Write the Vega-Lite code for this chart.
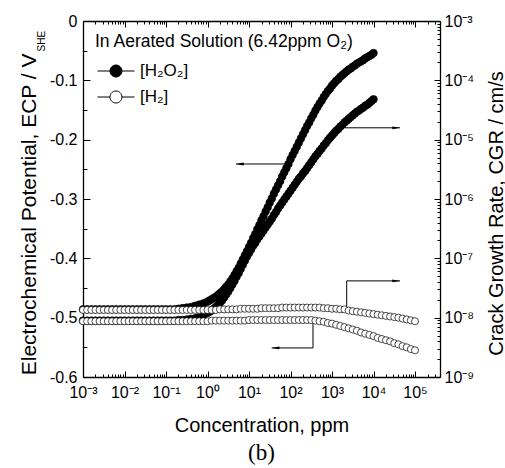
{
  "$schema": "https://vega.github.io/schema/vega-lite/v6.json",
  "width": 357,
  "height": 356,
  "autosize": {"type": "none"},
  "padding": {"left": 83, "top": 21, "right": 65, "bottom": 91},
  "background": "white",
  "config": {
    "view": {"stroke": null},
    "font": "Liberation Sans",
    "axis": {
      "grid": false,
      "labelFont": "Liberation Sans",
      "labelFontSize": 16,
      "labelColor": "black",
      "labelFlush": false,
      "labelOverlap": false,
      "tickColor": "black",
      "tickWidth": 1,
      "domainColor": "black",
      "domainWidth": 1.3,
      "titleFont": "Liberation Sans",
      "titleFontSize": 20,
      "titleFontWeight": "normal",
      "titleColor": "black"
    }
  },
  "title": {"text": "(b)", "orient": "bottom", "frame": "group", "anchor": "middle", "font": "Liberation Serif", "fontSize": 23, "fontWeight": "normal", "color": "black", "offset": 7},
  "datasets": {
    "h2o2_ecp": [
      {"c":1e-3,"ecp":-0.486},{"c":1.259e-3,"ecp":-0.486},{"c":1.585e-3,"ecp":-0.486},{"c":1.995e-3,"ecp":-0.486},{"c":2.512e-3,"ecp":-0.486},{"c":3.162e-3,"ecp":-0.486},{"c":3.981e-3,"ecp":-0.486},{"c":5.012e-3,"ecp":-0.486},{"c":6.31e-3,"ecp":-0.486},{"c":7.943e-3,"ecp":-0.486},
      {"c":1e-2,"ecp":-0.486},{"c":1.259e-2,"ecp":-0.486},{"c":1.585e-2,"ecp":-0.486},{"c":1.995e-2,"ecp":-0.486},{"c":2.512e-2,"ecp":-0.486},{"c":3.162e-2,"ecp":-0.486},{"c":3.981e-2,"ecp":-0.486},{"c":5.012e-2,"ecp":-0.486},{"c":6.31e-2,"ecp":-0.486},{"c":7.943e-2,"ecp":-0.486},
      {"c":1e-1,"ecp":-0.486},{"c":1.259e-1,"ecp":-0.486},{"c":1.585e-1,"ecp":-0.486},{"c":1.995e-1,"ecp":-0.485},{"c":2.512e-1,"ecp":-0.484},{"c":3.162e-1,"ecp":-0.483},{"c":3.981e-1,"ecp":-0.482},{"c":5.012e-1,"ecp":-0.480},{"c":6.31e-1,"ecp":-0.478},{"c":7.943e-1,"ecp":-0.476},
      {"c":1e0,"ecp":-0.473},{"c":1.259e0,"ecp":-0.469},{"c":1.585e0,"ecp":-0.465},{"c":1.995e0,"ecp":-0.459},{"c":2.512e0,"ecp":-0.452},{"c":3.162e0,"ecp":-0.444},{"c":3.981e0,"ecp":-0.434},{"c":5.012e0,"ecp":-0.422},{"c":6.31e0,"ecp":-0.409},{"c":7.943e0,"ecp":-0.395},
      {"c":1e1,"ecp":-0.381},{"c":1.259e1,"ecp":-0.366},{"c":1.585e1,"ecp":-0.351},{"c":1.995e1,"ecp":-0.336},{"c":2.512e1,"ecp":-0.321},{"c":3.162e1,"ecp":-0.306},{"c":3.981e1,"ecp":-0.291},{"c":5.012e1,"ecp":-0.277},{"c":6.31e1,"ecp":-0.262},{"c":7.943e1,"ecp":-0.248},
      {"c":1e2,"ecp":-0.233},{"c":1.259e2,"ecp":-0.219},{"c":1.585e2,"ecp":-0.205},{"c":1.995e2,"ecp":-0.191},{"c":2.512e2,"ecp":-0.177},{"c":3.162e2,"ecp":-0.164},{"c":3.981e2,"ecp":-0.151},{"c":5.012e2,"ecp":-0.139},{"c":6.31e2,"ecp":-0.128},{"c":7.943e2,"ecp":-0.118},
      {"c":1e3,"ecp":-0.109},{"c":1.259e3,"ecp":-0.101},{"c":1.585e3,"ecp":-0.094},{"c":1.995e3,"ecp":-0.088},{"c":2.512e3,"ecp":-0.082},{"c":3.162e3,"ecp":-0.077},{"c":3.981e3,"ecp":-0.072},{"c":5.012e3,"ecp":-0.068},{"c":6.31e3,"ecp":-0.063},{"c":7.943e3,"ecp":-0.059},
      {"c":1e4,"ecp":-0.054},
      {"c":1.122e0,"ecp":-0.471},{"c":1.413e0,"ecp":-0.467},{"c":1.778e0,"ecp":-0.462},{"c":2.239e0,"ecp":-0.456},{"c":2.818e0,"ecp":-0.448},{"c":3.548e0,"ecp":-0.439},{"c":4.467e0,"ecp":-0.428},{"c":5.623e0,"ecp":-0.416},{"c":7.079e0,"ecp":-0.402},{"c":8.913e0,"ecp":-0.388},
      {"c":1.122e1,"ecp":-0.374},{"c":1.413e1,"ecp":-0.359},{"c":1.778e1,"ecp":-0.344},{"c":2.239e1,"ecp":-0.329},{"c":2.818e1,"ecp":-0.314},{"c":3.548e1,"ecp":-0.299},{"c":4.467e1,"ecp":-0.284},{"c":5.623e1,"ecp":-0.270},{"c":7.079e1,"ecp":-0.255},{"c":8.913e1,"ecp":-0.241},
      {"c":1.122e2,"ecp":-0.226},{"c":1.413e2,"ecp":-0.212},{"c":1.778e2,"ecp":-0.198},{"c":2.239e2,"ecp":-0.184},{"c":2.818e2,"ecp":-0.171},{"c":3.548e2,"ecp":-0.158},{"c":4.467e2,"ecp":-0.145},{"c":5.623e2,"ecp":-0.134},{"c":7.079e2,"ecp":-0.123},{"c":8.913e2,"ecp":-0.114},
      {"c":1.122e3,"ecp":-0.105},{"c":1.413e3,"ecp":-0.098},{"c":1.778e3,"ecp":-0.091},{"c":2.239e3,"ecp":-0.085},{"c":2.818e3,"ecp":-0.080},{"c":3.548e3,"ecp":-0.075},{"c":4.467e3,"ecp":-0.070},{"c":5.623e3,"ecp":-0.066},{"c":7.079e3,"ecp":-0.061},{"c":8.913e3,"ecp":-0.057}
    ],
    "h2o2_cgr": [
      {"c":1e-3,"cgr":8.91e-9},{"c":1.259e-3,"cgr":8.91e-9},{"c":1.585e-3,"cgr":8.91e-9},{"c":1.995e-3,"cgr":8.91e-9},{"c":2.512e-3,"cgr":8.91e-9},{"c":3.162e-3,"cgr":8.91e-9},{"c":3.981e-3,"cgr":8.91e-9},{"c":5.012e-3,"cgr":8.91e-9},{"c":6.31e-3,"cgr":8.91e-9},{"c":7.943e-3,"cgr":8.91e-9},
      {"c":1e-2,"cgr":8.91e-9},{"c":1.259e-2,"cgr":8.91e-9},{"c":1.585e-2,"cgr":8.91e-9},{"c":1.995e-2,"cgr":8.91e-9},{"c":2.512e-2,"cgr":8.91e-9},{"c":3.162e-2,"cgr":8.91e-9},{"c":3.981e-2,"cgr":8.91e-9},{"c":5.012e-2,"cgr":8.91e-9},{"c":6.31e-2,"cgr":8.91e-9},{"c":7.943e-2,"cgr":8.91e-9},
      {"c":1e-1,"cgr":8.91e-9},{"c":1.259e-1,"cgr":8.91e-9},{"c":1.585e-1,"cgr":8.91e-9},{"c":1.995e-1,"cgr":9.12e-9},{"c":2.512e-1,"cgr":9.12e-9},{"c":3.162e-1,"cgr":9.33e-9},{"c":3.981e-1,"cgr":9.55e-9},{"c":5.012e-1,"cgr":9.77e-9},{"c":6.31e-1,"cgr":1.023e-8},{"c":7.943e-1,"cgr":1.096e-8},
      {"c":1e0,"cgr":1.202e-8},{"c":1.259e0,"cgr":1.318e-8},{"c":1.585e0,"cgr":1.514e-8},{"c":1.995e0,"cgr":1.778e-8},{"c":2.512e0,"cgr":2.188e-8},{"c":3.162e0,"cgr":2.754e-8},{"c":3.981e0,"cgr":3.631e-8},{"c":5.012e0,"cgr":4.898e-8},{"c":6.31e0,"cgr":6.607e-8},{"c":7.943e0,"cgr":9.12e-8},
      {"c":1e1,"cgr":1.23e-7},{"c":1.259e1,"cgr":1.622e-7},{"c":1.585e1,"cgr":2.089e-7},{"c":1.995e1,"cgr":2.63e-7},{"c":2.512e1,"cgr":3.311e-7},{"c":3.162e1,"cgr":4.169e-7},{"c":3.981e1,"cgr":5.37e-7},{"c":5.012e1,"cgr":6.918e-7},{"c":6.31e1,"cgr":8.71e-7},{"c":7.943e1,"cgr":1.096e-6},
      {"c":1e2,"cgr":1.38e-6},{"c":1.259e2,"cgr":1.738e-6},{"c":1.585e2,"cgr":2.188e-6},{"c":1.995e2,"cgr":2.692e-6},{"c":2.512e2,"cgr":3.311e-6},{"c":3.162e2,"cgr":4.169e-6},{"c":3.981e2,"cgr":5.248e-6},{"c":5.012e2,"cgr":6.457e-6},{"c":6.31e2,"cgr":7.943e-6},{"c":7.943e2,"cgr":9.772e-6},
      {"c":1e3,"cgr":1.175e-5},{"c":1.259e3,"cgr":1.413e-5},{"c":1.585e3,"cgr":1.66e-5},{"c":1.995e3,"cgr":1.95e-5},{"c":2.512e3,"cgr":2.239e-5},{"c":3.162e3,"cgr":2.57e-5},{"c":3.981e3,"cgr":2.951e-5},{"c":5.012e3,"cgr":3.311e-5},{"c":6.31e3,"cgr":3.715e-5},{"c":7.943e3,"cgr":4.169e-5},
      {"c":1e4,"cgr":4.786e-5},
      {"c":1.122e0,"cgr":1.259e-8},{"c":1.413e0,"cgr":1.413e-8},{"c":1.778e0,"cgr":1.622e-8},{"c":2.239e0,"cgr":1.95e-8},{"c":2.818e0,"cgr":2.455e-8},{"c":3.548e0,"cgr":3.162e-8},{"c":4.467e0,"cgr":4.169e-8},{"c":5.623e0,"cgr":5.623e-8},{"c":7.079e0,"cgr":7.762e-8},{"c":8.913e0,"cgr":1.072e-7},
      {"c":1.122e1,"cgr":1.413e-7},{"c":1.413e1,"cgr":1.82e-7},{"c":1.778e1,"cgr":2.344e-7},{"c":2.239e1,"cgr":2.951e-7},{"c":2.818e1,"cgr":3.715e-7},{"c":3.548e1,"cgr":4.677e-7},{"c":4.467e1,"cgr":6.026e-7},{"c":5.623e1,"cgr":7.762e-7},{"c":7.079e1,"cgr":9.772e-7},{"c":8.913e1,"cgr":1.23e-6},
      {"c":1.122e2,"cgr":1.549e-6},{"c":1.413e2,"cgr":1.95e-6},{"c":1.778e2,"cgr":2.399e-6},{"c":2.239e2,"cgr":2.951e-6},{"c":2.818e2,"cgr":3.715e-6},{"c":3.548e2,"cgr":4.677e-6},{"c":4.467e2,"cgr":5.754e-6},{"c":5.623e2,"cgr":7.079e-6},{"c":7.079e2,"cgr":8.71e-6},{"c":8.913e2,"cgr":1.072e-5},
      {"c":1.122e3,"cgr":1.288e-5},{"c":1.413e3,"cgr":1.514e-5},{"c":1.778e3,"cgr":1.778e-5},{"c":2.239e3,"cgr":2.089e-5},{"c":2.818e3,"cgr":2.399e-5},{"c":3.548e3,"cgr":2.754e-5},{"c":4.467e3,"cgr":3.09e-5},{"c":5.623e3,"cgr":3.467e-5},{"c":7.079e3,"cgr":3.89e-5},{"c":8.913e3,"cgr":4.467e-5}
    ],
    "h2_ecp": [
      {"c":1e-3,"ecp":-0.506},{"c":1.259e-3,"ecp":-0.506},{"c":1.585e-3,"ecp":-0.506},{"c":1.995e-3,"ecp":-0.506},{"c":2.512e-3,"ecp":-0.506},{"c":3.162e-3,"ecp":-0.506},{"c":3.981e-3,"ecp":-0.506},{"c":5.012e-3,"ecp":-0.506},{"c":6.31e-3,"ecp":-0.506},{"c":7.943e-3,"ecp":-0.506},
      {"c":1e-2,"ecp":-0.506},{"c":1.259e-2,"ecp":-0.506},{"c":1.585e-2,"ecp":-0.506},{"c":1.995e-2,"ecp":-0.506},{"c":2.512e-2,"ecp":-0.506},{"c":3.162e-2,"ecp":-0.506},{"c":3.981e-2,"ecp":-0.506},{"c":5.012e-2,"ecp":-0.506},{"c":6.31e-2,"ecp":-0.506},{"c":7.943e-2,"ecp":-0.506},
      {"c":1e-1,"ecp":-0.506},{"c":1.259e-1,"ecp":-0.506},{"c":1.585e-1,"ecp":-0.506},{"c":1.995e-1,"ecp":-0.506},{"c":2.512e-1,"ecp":-0.506},{"c":3.162e-1,"ecp":-0.506},{"c":3.981e-1,"ecp":-0.506},{"c":5.012e-1,"ecp":-0.506},{"c":6.31e-1,"ecp":-0.506},{"c":7.943e-1,"ecp":-0.506},
      {"c":1e0,"ecp":-0.506},{"c":1.259e0,"ecp":-0.505},{"c":1.585e0,"ecp":-0.505},{"c":1.995e0,"ecp":-0.505},{"c":2.512e0,"ecp":-0.505},{"c":3.162e0,"ecp":-0.505},{"c":3.981e0,"ecp":-0.505},{"c":5.012e0,"ecp":-0.505},{"c":6.31e0,"ecp":-0.505},{"c":7.943e0,"ecp":-0.505},
      {"c":1e1,"ecp":-0.504},{"c":1.259e1,"ecp":-0.504},{"c":1.585e1,"ecp":-0.504},{"c":1.995e1,"ecp":-0.504},{"c":2.512e1,"ecp":-0.504},{"c":3.162e1,"ecp":-0.504},{"c":3.981e1,"ecp":-0.504},{"c":5.012e1,"ecp":-0.504},{"c":6.31e1,"ecp":-0.504},{"c":7.943e1,"ecp":-0.504},
      {"c":1e2,"ecp":-0.504},{"c":1.259e2,"ecp":-0.504},{"c":1.585e2,"ecp":-0.504},{"c":1.995e2,"ecp":-0.504},{"c":2.512e2,"ecp":-0.504},{"c":3.162e2,"ecp":-0.504},{"c":3.981e2,"ecp":-0.505},{"c":5.012e2,"ecp":-0.506},{"c":6.31e2,"ecp":-0.507},{"c":7.943e2,"ecp":-0.509},
      {"c":1e3,"ecp":-0.510},{"c":1.259e3,"ecp":-0.512},{"c":1.585e3,"ecp":-0.514},{"c":1.995e3,"ecp":-0.516},{"c":2.512e3,"ecp":-0.518},{"c":3.162e3,"ecp":-0.520},{"c":3.981e3,"ecp":-0.522},{"c":5.012e3,"ecp":-0.525},{"c":6.31e3,"ecp":-0.527},{"c":7.943e3,"ecp":-0.529},
      {"c":1e4,"ecp":-0.531},{"c":1.259e4,"ecp":-0.534},{"c":1.585e4,"ecp":-0.536},{"c":1.995e4,"ecp":-0.538},{"c":2.512e4,"ecp":-0.540},{"c":3.162e4,"ecp":-0.543},{"c":3.981e4,"ecp":-0.545},{"c":5.012e4,"ecp":-0.548},{"c":6.31e4,"ecp":-0.550},{"c":7.943e4,"ecp":-0.553},
      {"c":1e5,"ecp":-0.555}
    ],
    "h2_cgr": [
      {"c":1e-3,"cgr":1.349e-8},{"c":1.259e-3,"cgr":1.349e-8},{"c":1.585e-3,"cgr":1.349e-8},{"c":1.995e-3,"cgr":1.349e-8},{"c":2.512e-3,"cgr":1.349e-8},{"c":3.162e-3,"cgr":1.349e-8},{"c":3.981e-3,"cgr":1.349e-8},{"c":5.012e-3,"cgr":1.349e-8},{"c":6.31e-3,"cgr":1.349e-8},{"c":7.943e-3,"cgr":1.349e-8},
      {"c":1e-2,"cgr":1.349e-8},{"c":1.259e-2,"cgr":1.349e-8},{"c":1.585e-2,"cgr":1.349e-8},{"c":1.995e-2,"cgr":1.349e-8},{"c":2.512e-2,"cgr":1.349e-8},{"c":3.162e-2,"cgr":1.349e-8},{"c":3.981e-2,"cgr":1.349e-8},{"c":5.012e-2,"cgr":1.349e-8},{"c":6.31e-2,"cgr":1.349e-8},{"c":7.943e-2,"cgr":1.349e-8},
      {"c":1e-1,"cgr":1.349e-8},{"c":1.259e-1,"cgr":1.349e-8},{"c":1.585e-1,"cgr":1.349e-8},{"c":1.995e-1,"cgr":1.349e-8},{"c":2.512e-1,"cgr":1.349e-8},{"c":3.162e-1,"cgr":1.349e-8},{"c":3.981e-1,"cgr":1.349e-8},{"c":5.012e-1,"cgr":1.349e-8},{"c":6.31e-1,"cgr":1.349e-8},{"c":7.943e-1,"cgr":1.349e-8},
      {"c":1e0,"cgr":1.349e-8},{"c":1.259e0,"cgr":1.349e-8},{"c":1.585e0,"cgr":1.349e-8},{"c":1.995e0,"cgr":1.38e-8},{"c":2.512e0,"cgr":1.38e-8},{"c":3.162e0,"cgr":1.38e-8},{"c":3.981e0,"cgr":1.38e-8},{"c":5.012e0,"cgr":1.38e-8},{"c":6.31e0,"cgr":1.413e-8},{"c":7.943e0,"cgr":1.413e-8},
      {"c":1e1,"cgr":1.413e-8},{"c":1.259e1,"cgr":1.413e-8},{"c":1.585e1,"cgr":1.413e-8},{"c":1.995e1,"cgr":1.445e-8},{"c":2.512e1,"cgr":1.445e-8},{"c":3.162e1,"cgr":1.445e-8},{"c":3.981e1,"cgr":1.445e-8},{"c":5.012e1,"cgr":1.445e-8},{"c":6.31e1,"cgr":1.479e-8},{"c":7.943e1,"cgr":1.479e-8},
      {"c":1e2,"cgr":1.479e-8},{"c":1.259e2,"cgr":1.479e-8},{"c":1.585e2,"cgr":1.479e-8},{"c":1.995e2,"cgr":1.479e-8},{"c":2.512e2,"cgr":1.479e-8},{"c":3.162e2,"cgr":1.479e-8},{"c":3.981e2,"cgr":1.479e-8},{"c":5.012e2,"cgr":1.479e-8},{"c":6.31e2,"cgr":1.445e-8},{"c":7.943e2,"cgr":1.445e-8},
      {"c":1e3,"cgr":1.413e-8},{"c":1.259e3,"cgr":1.413e-8},{"c":1.585e3,"cgr":1.38e-8},{"c":1.995e3,"cgr":1.38e-8},{"c":2.512e3,"cgr":1.318e-8},{"c":3.162e3,"cgr":1.288e-8},{"c":3.981e3,"cgr":1.259e-8},{"c":5.012e3,"cgr":1.23e-8},{"c":6.31e3,"cgr":1.202e-8},{"c":7.943e3,"cgr":1.175e-8},
      {"c":1e4,"cgr":1.148e-8},{"c":1.259e4,"cgr":1.122e-8},{"c":1.585e4,"cgr":1.096e-8},{"c":1.995e4,"cgr":1.072e-8},{"c":2.512e4,"cgr":1.047e-8},{"c":3.162e4,"cgr":1.023e-8},{"c":3.981e4,"cgr":1.0e-8},{"c":5.012e4,"cgr":9.66e-9},{"c":6.31e4,"cgr":9.33e-9},{"c":7.943e4,"cgr":9.02e-9},
      {"c":1e5,"cgr":8.71e-9}
    ],
    "arrows": [
      {"x1":82.4,"x2":4.86,"y1":-0.241,"y2":-0.241},
      {"x1":2056,"x2":43550,"y1":-0.180,"y2":-0.180},
      {"x1":2259,"x2":2259,"y1":-0.481,"y2":-0.438},
      {"x1":2259,"x2":43550,"y1":-0.438,"y2":-0.438},
      {"x1":348,"x2":348,"y1":-0.510,"y2":-0.551},
      {"x1":348,"x2":35.2,"y1":-0.551,"y2":-0.551}
    ],
    "heads": [
      {"c":4.86,"ecp":-0.241,"dir":"left"},
      {"c":43550,"ecp":-0.180,"dir":"right"},
      {"c":43550,"ecp":-0.438,"dir":"right"},
      {"c":35.2,"ecp":-0.551,"dir":"left"}
    ]
  },
  "resolve": {"scale": {"x": "independent", "y": "independent"}},
  "layer": [
    {
      "data": {"name": "h2o2_ecp"},
      "mark": {"type": "point", "shape": "circle", "filled": true, "size": 58, "stroke": "black", "strokeWidth": 0.7, "opacity": 1},
      "encoding": {
        "x": {"field": "c", "type": "quantitative", "scale": {"type": "log", "domain": [0.001, 400000], "nice": false},
          "axis": {"orient": "bottom", "offset": 0, "values": [0.001, 0.01, 0.1, 1, 10, 100, 1000, 10000, 100000],
            "labelExpr": "['10⁻³','10⁻²','10⁻¹','10⁰','10¹','10²','10³','10⁴','10⁵'][round(log(datum.value)/LN10)+3]",
            "tickSize": -6, "labelPadding": 13, "title": "Concentration, ppm", "titlePadding": 15}},
        "y": {"field": "ecp", "type": "quantitative", "scale": {"domain": [-0.6, 0], "nice": false, "zero": false},
          "axis": {"orient": "left", "offset": 0, "values": [0, -0.1, -0.2, -0.3, -0.4, -0.5, -0.6],
            "labelExpr": "datum.value == 0 ? '0' : '-' + format(-datum.value, '.1f')",
            "tickSize": -7, "labelPadding": 13,
            "title": "Electrochemical Potential, ECP / V", "titleFontSize": 21, "titleAngle": 270, "titleAlign": "right", "titleBaseline": "alphabetic", "titleX": -48, "titleY": 32}},
        "fill": {"datum": "[H₂O₂]", "type": "nominal", "scale": {"domain": ["[H₂O₂]", "[H₂]"], "range": ["black", "white"]},
          "legend": {"orient": "top-left", "offset": 12, "padding": 0,
            "title": "In Aerated Solution (6.42ppm O₂)", "titleFont": "Liberation Sans", "titleFontSize": 17.5, "titleFontWeight": "normal", "titleColor": "black", "titlePadding": 12, "titleLimit": 400,
            "labelFont": "Liberation Sans", "labelFontSize": 17, "labelColor": "black", "labelOffset": 28, "labelLimit": 200,
            "symbolType": "M-1,0L1.08,0M3.08,0L5.17,0M3.08,0A1,1,0,1,1,1.08,0A1,1,0,1,1,3.08,0Z",
            "symbolSize": 144, "symbolStrokeColor": "black", "symbolStrokeWidth": 1, "symbolOpacity": 1, "rowPadding": 8}}
      }
    },
    {
      "data": {"name": "h2o2_cgr"},
      "mark": {"type": "point", "shape": "circle", "filled": true, "size": 58, "stroke": "black", "strokeWidth": 0.7, "opacity": 1},
      "encoding": {
        "x": {"field": "c", "type": "quantitative", "scale": {"type": "log", "domain": [0.001, 400000], "nice": false},
          "axis": {"orient": "top", "offset": 0, "values": [0.001, 0.01, 0.1, 1, 10, 100, 1000, 10000, 100000], "labels": false, "tickSize": -6, "title": null}},
        "y": {"field": "cgr", "type": "quantitative", "scale": {"type": "log", "domain": [1e-9, 1e-3], "nice": false},
          "axis": {"orient": "right", "offset": 0, "values": [1e-9, 1e-8, 1e-7, 1e-6, 1e-5, 1e-4, 1e-3],
            "labelExpr": "['10⁻⁹','10⁻⁸','10⁻⁷','10⁻⁶','10⁻⁵','10⁻⁴','10⁻³'][round(log(datum.value)/LN10)+9]",
            "tickSize": -6, "labelPadding": 10,
            "title": "Crack Growth Rate, CGR / cm/s", "titleAngle": 270, "titleAlign": "center", "titleBaseline": "alphabetic", "titleX": 62, "titleY": 192}},
        "fill": {"datum": "[H₂O₂]", "type": "nominal", "scale": {"domain": ["[H₂O₂]", "[H₂]"], "range": ["black", "white"]}}
      }
    },
    {
      "data": {"name": "h2_ecp"},
      "mark": {"type": "point", "shape": "circle", "filled": true, "size": 50, "stroke": "black", "strokeWidth": 0.7, "opacity": 1},
      "encoding": {
        "x": {"field": "c", "type": "quantitative", "scale": {"type": "log", "domain": [0.001, 400000], "nice": false},
          "axis": {"orient": "bottom", "offset": 0, "labels": false, "domain": false, "tickSize": -3, "title": null,
            "values": [0.002,0.003,0.004,0.005,0.006,0.007,0.008,0.009,0.02,0.03,0.04,0.05,0.06,0.07,0.08,0.09,0.2,0.3,0.4,0.5,0.6,0.7,0.8,0.9,2,3,4,5,6,7,8,9,20,30,40,50,60,70,80,90,200,300,400,500,600,700,800,900,2000,3000,4000,5000,6000,7000,8000,9000,20000,30000,40000,50000,60000,70000,80000,90000,200000,300000]}},
        "y": {"field": "ecp", "type": "quantitative", "scale": {"domain": [-0.6, 0], "nice": false, "zero": false},
          "axis": {"orient": "left", "offset": 0, "values": [-0.05, -0.15, -0.25, -0.35, -0.45, -0.55], "labels": false, "domain": false, "tickSize": -4,
            "title": "SHE", "titleFontSize": 10, "titleAngle": 270, "titleAlign": "left", "titleBaseline": "alphabetic", "titleX": -39, "titleY": 30}},
        "fill": {"datum": "[H₂]", "type": "nominal", "scale": {"domain": ["[H₂O₂]", "[H₂]"], "range": ["black", "white"]}}
      }
    },
    {
      "data": {"name": "h2_cgr"},
      "mark": {"type": "point", "shape": "circle", "filled": true, "size": 50, "stroke": "black", "strokeWidth": 0.7, "opacity": 1},
      "encoding": {
        "x": {"field": "c", "type": "quantitative", "scale": {"type": "log", "domain": [0.001, 400000], "nice": false},
          "axis": {"orient": "top", "offset": 0, "labels": false, "domain": false, "tickSize": -3, "title": null,
            "values": [0.002,0.003,0.004,0.005,0.006,0.007,0.008,0.009,0.02,0.03,0.04,0.05,0.06,0.07,0.08,0.09,0.2,0.3,0.4,0.5,0.6,0.7,0.8,0.9,2,3,4,5,6,7,8,9,20,30,40,50,60,70,80,90,200,300,400,500,600,700,800,900,2000,3000,4000,5000,6000,7000,8000,9000,20000,30000,40000,50000,60000,70000,80000,90000,200000,300000]}},
        "y": {"field": "cgr", "type": "quantitative", "scale": {"type": "log", "domain": [1e-9, 1e-3], "nice": false},
          "axis": {"orient": "right", "offset": 0, "labels": false, "domain": false, "tickSize": -3, "title": null,
            "values": [2e-9,3e-9,4e-9,5e-9,6e-9,7e-9,8e-9,9e-9,2e-8,3e-8,4e-8,5e-8,6e-8,7e-8,8e-8,9e-8,2e-7,3e-7,4e-7,5e-7,6e-7,7e-7,8e-7,9e-7,2e-6,3e-6,4e-6,5e-6,6e-6,7e-6,8e-6,9e-6,2e-5,3e-5,4e-5,5e-5,6e-5,7e-5,8e-5,9e-5,2e-4,3e-4,4e-4,5e-4,6e-4,7e-4,8e-4,9e-4]}},
        "fill": {"datum": "[H₂]", "type": "nominal", "scale": {"domain": ["[H₂O₂]", "[H₂]"], "range": ["black", "white"]}}
      }
    },
    {
      "data": {"name": "arrows"},
      "mark": {"type": "rule", "color": "black", "strokeWidth": 1},
      "encoding": {
        "x": {"field": "x1", "type": "quantitative", "scale": {"type": "log", "domain": [0.001, 400000], "nice": false}, "axis": null},
        "x2": {"field": "x2"},
        "y": {"field": "y1", "type": "quantitative", "scale": {"domain": [-0.6, 0], "nice": false, "zero": false}, "axis": null},
        "y2": {"field": "y2"}
      }
    },
    {
      "data": {"name": "heads"},
      "mark": {"type": "point", "filled": true, "color": "black", "size": 49, "opacity": 1, "strokeWidth": 0},
      "encoding": {
        "x": {"field": "c", "type": "quantitative", "scale": {"type": "log", "domain": [0.001, 400000], "nice": false}, "axis": null},
        "y": {"field": "ecp", "type": "quantitative", "scale": {"domain": [-0.6, 0], "nice": false, "zero": false}, "axis": null},
        "shape": {"field": "dir", "type": "nominal", "scale": {"domain": ["left", "right"], "range": ["M0,0L2.2,-0.4L2.2,0.4Z", "M0,0L-2.2,-0.4L-2.2,0.4Z"]}, "legend": null}
      }
    }
  ]
}
